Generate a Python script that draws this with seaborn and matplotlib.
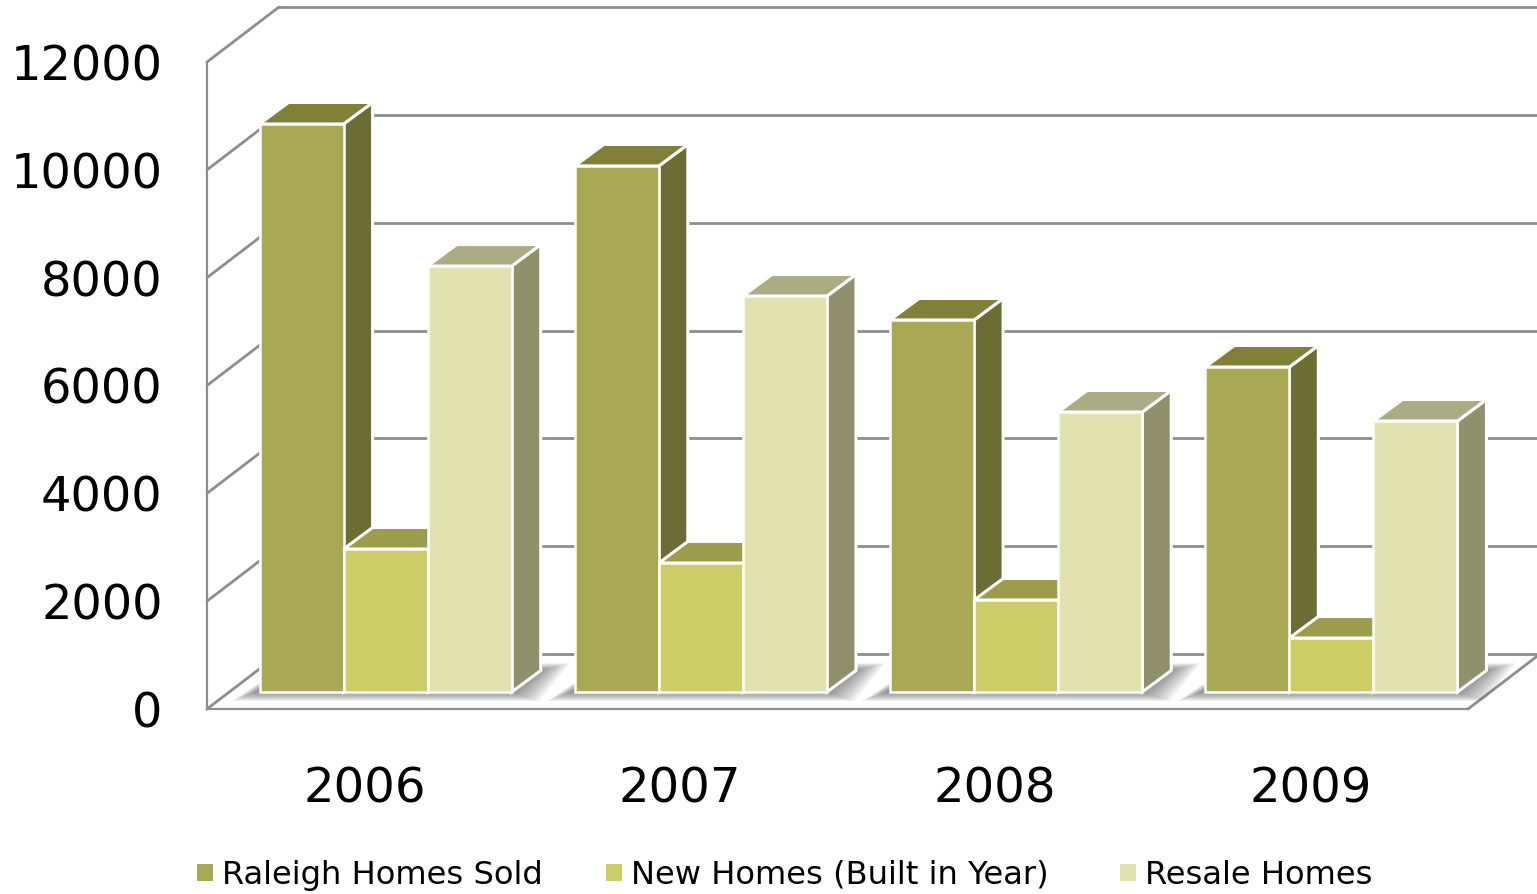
import numpy as np
import pandas as pd
import matplotlib
matplotlib.use("Agg")
import matplotlib.pyplot as plt
import seaborn as sns

years = ["2006", "2007", "2008", "2009"]
series_names = ["Raleigh Homes Sold", "New Homes (Built in Year)", "Resale Homes"]
raleigh_sold = [10535, 9757, 6900, 6028]
new_homes = [2652, 2393, 1706, 1001]
resale_homes = [7900, 7345, 5193, 5026]
y_ticks = [0, 2000, 4000, 6000, 8000, 10000, 12000]

front_colors = ["#A9A955", "#CCCD67", "#E2E1B0"]
top_colors = ["#808038", "#9C9C4D", "#ACAC84"]
side_colors = ["#6C6C35", "#8A8A44", "#90906D"]
wall_color = "#8E8E8E"
text_color = "#000000"
legend_x_px = [197, 606, 1120]

W, H = 1537, 894
sns.set_theme(style="white")
plt.rcParams["font.family"] = ["DejaVu Sans"]

fig = plt.figure(figsize=(W / 100, H / 100), dpi=100)

# Front plane of the chart box, in figure pixels
L, R, B, T = 207, 1468, 709, 62
rect = [L / W, (H - B) / H, (R - L) / W, (B - T) / H]
ax = fig.add_axes(rect)
ax.set_xlim(-0.5, 3.5)
ax.set_ylim(0, 12000)

px_x = 4 / (R - L)          # data units per pixel
px_y = 12000 / (B - T)
wall_dx, wall_dy = 72 * px_x, 55 * px_y

# Left wall, back wall and floor lines
for v in y_ticks:
    ax.plot([-0.5, -0.5 + wall_dx], [v, v + wall_dy], color=wall_color, lw=2, clip_on=False, zorder=1)
    ax.plot([-0.5 + wall_dx, 3.5 + wall_dx], [v + wall_dy, v + wall_dy], color=wall_color, lw=2, clip_on=False, zorder=1)
ax.plot([3.5, 3.5 + wall_dx], [0, wall_dy], color=wall_color, lw=2, clip_on=False, zorder=1)

for s in ["top", "right"]:
    ax.spines[s].set_visible(False)
for s in ["left", "bottom"]:
    ax.spines[s].set_color(wall_color)
    ax.spines[s].set_linewidth(1.6)
ax.set_xticks(range(len(years)))
ax.set_xticklabels(years)
ax.set_yticks(y_ticks)
ax.tick_params(axis="y", length=0, pad=32, labelsize=34.5, labelcolor=text_color)
ax.tick_params(axis="x", length=0, pad=41, labelsize=34.7, labelcolor=text_color)
ax.set_xlabel("")
ax.set_ylabel("")

# Bars sit a little way back from the front plane
off_x, off_y = 21, 17
ax_bars = fig.add_axes([(L + off_x) / W, (H - B + off_y) / H, (R - L) / W, (B - T) / H])
ax_bars.patch.set_visible(False)

df = pd.DataFrame({
    "year": years * 3,
    "series": np.repeat(series_names, 4),
    "value": raleigh_sold + new_homes + resale_homes,
})
sns.barplot(data=df, x="year", y="value", hue="series", hue_order=series_names,
            palette=front_colors, saturation=1, width=0.8, gap=0,
            edgecolor="white", linewidth=1.8, errorbar=None, ax=ax_bars)
ax_bars.set_xlim(-0.5, 3.5)
ax_bars.set_ylim(0, 12000)

handles, labels = ax_bars.get_legend_handles_labels()
ax_bars.get_legend().remove()
ax_bars.axis("off")

# Depth of each bar
bar_dx, bar_dy = 29 * px_x, 21.5 * px_y

bars = sorted([p for p in ax_bars.patches if p.get_height() > 0], key=lambda p: p.get_x())
n_series = len(series_names)
for i, p in enumerate(bars):
    x0, w, h = p.get_x(), p.get_width(), p.get_height()
    color_series = [c for c, f in enumerate(front_colors)
                    if matplotlib.colors.same_color(f, p.get_facecolor())][0]
    z = 3 + i * 2
    ax_bars.fill([x0 + w, x0 + w + bar_dx, x0 + w + bar_dx, x0 + w],
                 [0, bar_dy, h + bar_dy, h],
                 color=side_colors[color_series], ec="white", lw=2.2, clip_on=False, zorder=z)
    ax_bars.fill([x0, x0 + w, x0 + w + bar_dx, x0 + bar_dx],
                 [h, h, h + bar_dy, h + bar_dy],
                 color=top_colors[color_series], ec="white", lw=2.2, clip_on=False, zorder=z)
    p.set_zorder(z + 1)
    p.set_clip_on(False)

# Soft shadow under each group of bars
for g in range(len(years)):
    group = bars[g * n_series:(g + 1) * n_series]
    gx0 = group[0].get_x()
    gx1 = group[-1].get_x() + group[-1].get_width()
    for e in range(9, 0, -1):
        ax_bars.fill(
            [gx0 - (4 + 2.6 * e) * px_x, gx1 + (3 * e) * px_x,
             gx1 + bar_dx + (3.2 * e) * px_x, gx0 + bar_dx],
            [-e * px_y, -e * px_y, bar_dy + 0.8 * e * px_y, bar_dy + 0.8 * e * px_y],
            color="#404040", alpha=0.08, lw=0, clip_on=False, zorder=1)

for h, lab, x in zip(handles, labels, legend_x_px):
    h.set_linewidth(0)
    fig.legend([h], [lab], loc="center left", bbox_to_anchor=(x / W, (H - 875.5) / H),
               frameon=False, fontsize=23.1, labelcolor=text_color,
               handlelength=0.5, handleheight=0.42, handletextpad=0.28,
               borderpad=0, borderaxespad=0)

fig.savefig("out.png", dpi=100)
